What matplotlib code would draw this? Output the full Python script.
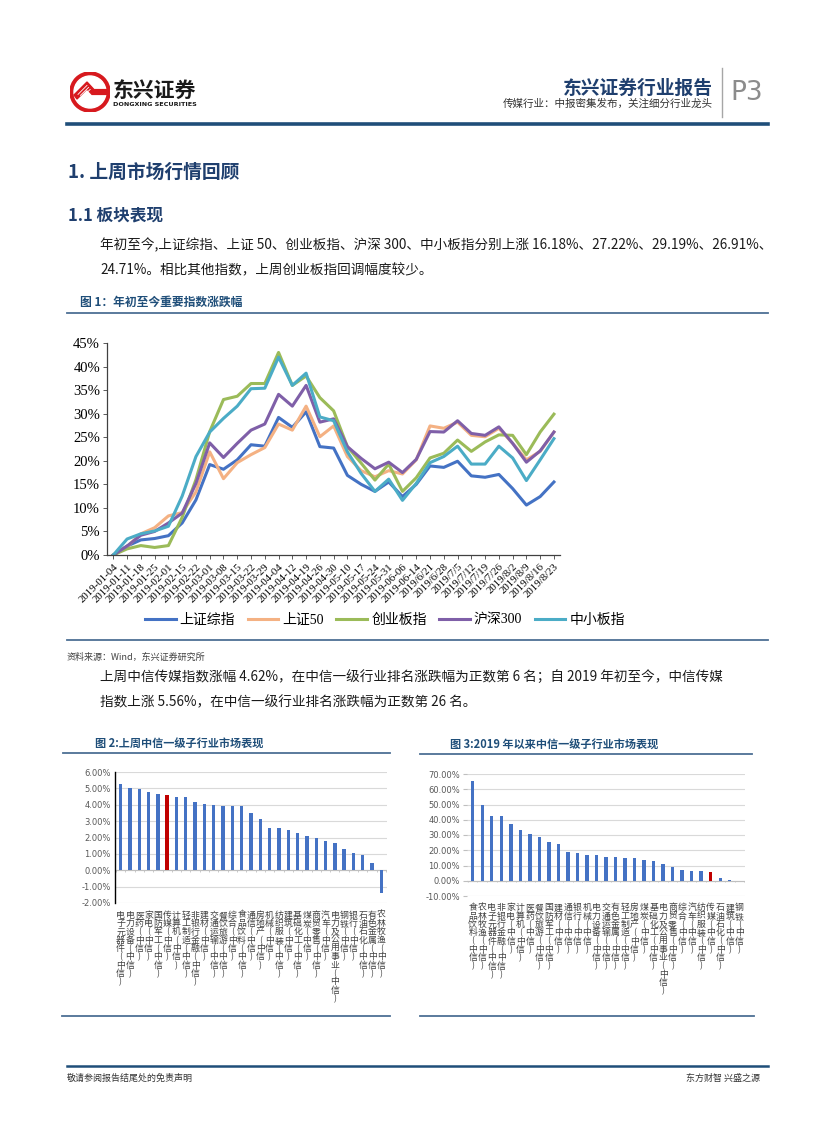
import matplotlib
matplotlib.use("Agg")
import matplotlib.pyplot as plt
import numpy as np
from matplotlib.lines import Line2D
from matplotlib.patches import Circle, Polygon
import matplotlib.transforms as mtransforms

plt.rcParams['font.family'] = ['Noto Sans CJK SC', 'DejaVu Sans']

# ---------------- 数据 ----------------
dates = ['2019-01-04', '2019-01-11', '2019-01-18', '2019-01-25', '2019-02-01', '2019-02-15',
         '2019-02-22', '2019-03-01', '2019-03-08', '2019-03-15', '2019-03-22', '2019-03-29',
         '2019-04-04', '2019-04-12', '2019-04-19', '2019-04-26', '2019-04-30', '2019-05-10',
         '2019-05-17', '2019-05-24', '2019-05-31', '2019-06-06', '2019-06-14', '2019/6/21',
         '2019/6/28', '2019/7/5', '2019/7/12', '2019/7/19', '2019/7/26', '2019/8/2',
         '2019/8/9', '2019/8/16', '2019/8/23']

szzz = [0, 1.9, 3.2, 3.5, 4.1, 6.8, 11.7, 19.2, 18.2, 20.2, 23.4, 23.1, 29.2, 27.1, 30.4, 23.0,
        22.7, 16.9, 15.0, 13.5, 15.5, 12.4, 15.0, 18.9, 18.6, 19.9, 16.8, 16.5, 17.1, 14.1,
        10.6, 12.4, 15.5]
sz50 = [0, 1.8, 4.5, 5.8, 8.3, 9.0, 13.4, 21.9, 16.2, 19.6, 21.3, 22.8, 27.8, 26.5, 31.6, 25.1,
        27.4, 20.9, 17.9, 16.6, 17.9, 17.2, 20.2, 27.4, 26.9, 28.2, 25.4, 25.1, 26.9, 23.7,
        20.2, 22.0, 26.1]
cyb = [0, 1.3, 2.0, 1.6, 2.0, 8.0, 16.0, 26.2, 33.0, 33.7, 36.4, 36.4, 43.0, 36.0, 38.0, 33.4,
       30.6, 23.0, 19.5, 15.9, 19.3, 13.5, 16.4, 20.6, 21.6, 24.4, 22.0, 24.0, 25.5, 25.4,
       21.3, 26.1, 29.9]
hs300 = [0, 1.9, 4.2, 5.0, 6.8, 8.9, 15.2, 23.8, 20.7, 23.7, 26.5, 27.8, 34.1, 31.6, 36.0, 28.2,
         28.9, 23.0, 20.5, 18.3, 19.7, 17.5, 20.3, 26.2, 26.1, 28.5, 25.8, 25.4, 27.2, 23.7,
         19.7, 22.1, 26.1]
zxb = [0, 3.4, 4.5, 5.1, 6.1, 12.5, 20.9, 26.1, 29.0, 31.6, 35.3, 35.4, 42.0, 36.0, 38.6, 29.3,
       28.5, 21.9, 17.3, 13.5, 16.1, 11.6, 15.2, 19.6, 20.9, 23.1, 19.3, 19.3, 23.1, 20.6,
       15.8, 20.2, 24.7]

series_names = ['上证综指', '上证50', '创业板指', '沪深300', '中小板指']
series_colors = ['#4472C4', '#F4B183', '#9BBB59', '#7F5FA8', '#4BACC6']

ind_week = ['电子元器件(中信)', '电力设备(中信)', '医药(中信)', '家电(中信)', '国防军工(中信)',
            '传媒(中信)', '计算机(中信)', '轻工制造(中信)', '非银行金融(中信)', '建材(中信)',
            '交通运输(中信)', '餐饮旅游(中信)', '综合(中信)', '食品饮料(中信)', '通信(中信)',
            '房地产(中信)', '机械(中信)', '纺织服装(中信)', '建筑(中信)', '基础化工(中信)',
            '煤炭(中信)', '商贸零售(中信)', '汽车(中信)', '电力及公用事业(中信)', '钢铁(中信)',
            '银行(中信)', '石油石化(中信)', '有色金属(中信)', '农林牧渔(中信)']
chg_week = [5.24, 5.03, 4.99, 4.80, 4.63, 4.62, 4.50, 4.50, 4.19, 4.07, 4.00, 3.94, 3.94, 3.94,
            3.51, 3.14, 2.59, 2.59, 2.46, 2.28, 2.09, 1.99, 1.79, 1.66, 1.29, 1.05, 0.92, 0.43,
            -1.40]

ind_ytd = ['食品饮料(中信)', '农林牧渔(中信)', '电子元器件(中信)', '非银行金融(中信)', '家电(中信)',
           '计算机(中信)', '医药(中信)', '餐饮旅游(中信)', '国防军工(中信)', '建材(中信)',
           '通信(中信)', '银行(中信)', '机械(中信)', '电力设备(中信)', '交通运输(中信)',
           '有色金属(中信)', '轻工制造(中信)', '房地产(中信)', '煤炭(中信)', '基础化工(中信)',
           '电力及公用事业(中信)', '商贸零售(中信)', '综合(中信)', '汽车(中信)', '纺织服装(中信)',
           '传媒(中信)', '石油石化(中信)', '建筑(中信)', '钢铁(中信)']
chg_ytd = [65.6, 49.9, 42.7, 42.7, 37.4, 33.5, 30.8, 28.9, 25.6, 24.3, 19.0, 18.4, 17.1, 17.1,
           15.8, 15.8, 15.1, 15.1, 13.8, 13.1, 11.2, 9.2, 7.2, 6.6, 6.6, 5.56, 2.0, 0.3, -0.2]

# ---------------- 页面 ----------------
W, H = 827, 1122
fig = plt.figure(figsize=(W / 100, H / 100), dpi=100)
fig.patch.set_facecolor('white')


def fx(x):
    return x / W


def fy(y):
    return 1 - y / H


def txt(x, y, s, **kw):
    fig.text(fx(x), fy(y), s, **kw)


def hline(x0, x1, y, **kw):
    fig.add_artist(Line2D([fx(x0), fx(x1)], [fy(y), fy(y)], transform=fig.transFigure, **kw))


def add_ax(left, top, right, bottom):
    return fig.add_axes([fx(left), fy(bottom), (right - left) / W, (bottom - top) / H])


navy = '#1F3F6E'
blue_line = '#4D6F94'

# 标志
lax = add_ax(70, 72, 110, 112)
lax.set_xlim(-1, 1)
lax.set_ylim(-1, 1)
lax.axis('off')
lax.add_patch(Circle((0, 0), 1, color='#D7191E'))
lax.add_patch(Circle((0, 0), 0.8, color='white'))
lax.add_patch(Polygon([(-0.8, -0.15), (-0.15, 0.5), (0.2, 0.12), (0.85, 0.12), (0.85, -0.12),
                       (0.1, -0.12), (-0.15, 0.15), (-0.65, -0.35)], color='#D7191E'))
for k in range(3):
    lax.plot([-0.6 + k * 0.12, -0.15 + k * 0.08], [-0.12 - k * 0.05, 0.33 - k * 0.1],
             color='white', lw=0.6)
txt(113, 90, '东兴证券', fontsize=15, fontweight='bold', va='center', color='#1a1a1a')
txt(113, 104, 'DONGXING SECURITIES', fontsize=4.6, fontweight='bold', va='center',
    family='DejaVu Sans', color='#1a1a1a')

txt(713, 88, '东兴证券行业报告', fontsize=13.5, fontweight='bold', ha='right', va='center', color=navy)
txt(713, 104, '传媒行业：中报密集发布，关注细分行业龙头', fontsize=7.6, ha='right', va='center', color='#333333')
fig.add_artist(Line2D([fx(722), fx(722)], [fy(68), fy(117)], transform=fig.transFigure,
                      color='#A6A6A6', lw=1))
txt(730, 93, 'P3', fontsize=19, ha='left', va='center', color='#8C8C8C', family='DejaVu Sans')
hline(67, 768, 124, color='#1F4E79', lw=2.6)

body = 9.8
txt(68, 172, '1. 上周市场行情回顾', fontsize=13.5, fontweight='bold', va='center', color=navy)
txt(68, 215, '1.1 板块表现', fontsize=12, fontweight='bold', va='center', color=navy)
txt(100, 245, '年初至今,上证综指、上证 50、创业板指、沪深 300、中小板指分别上涨 16.18%、27.22%、29.19%、26.91%、',
    fontsize=body, va='center', color='#1a1a1a')
txt(100, 270, '24.71%。相比其他指数，上周创业板指回调幅度较少。', fontsize=body, va='center', color='#1a1a1a')

txt(80, 302, '图 1：年初至今重要指数涨跌幅', fontsize=8.5, fontweight='bold', va='center', color='#1F4E79')
hline(67, 768, 313, color=blue_line, lw=1.3)

# ---------------- 图1 折线 ----------------
ax = add_ax(107, 343, 560, 555)
x = np.arange(len(dates))
for vals, name, c in zip([szzz, sz50, cyb, hs300, zxb], series_names, series_colors):
    ax.plot(x, vals, color=c, lw=2.2, label=name, solid_joinstyle='round')
ax.set_ylim(0, 45)
ax.set_xlim(-0.46, len(dates) - 1 + 0.44)
ax.set_yticks(np.arange(0, 46, 5))
ax.set_yticklabels(['%d%%' % v for v in range(0, 46, 5)], family='Liberation Serif', fontsize=10.5)
ax.set_xticks(x)
ax.set_xticklabels(dates, rotation=45, ha='right', rotation_mode='anchor',
                   family='Liberation Serif', fontsize=7.8)
ax.tick_params(axis='x', length=3, width=0.6, colors='#404040', pad=2)
ax.tick_params(axis='y', length=3, width=0.6, colors='#404040', pad=2)
for lab in ax.get_xticklabels() + ax.get_yticklabels():
    lab.set_color('black')
for s in ['top', 'right']:
    ax.spines[s].set_visible(False)
for s in ['left', 'bottom']:
    ax.spines[s].set_color('#404040')
    ax.spines[s].set_linewidth(0.9)
ax.legend(loc='center', bbox_to_anchor=(fx(385), fy(620)), bbox_transform=fig.transFigure,
          ncol=5, frameon=False, handlelength=2.2, columnspacing=0.9, handletextpad=0.3,
          prop={'family': ['Liberation Serif', 'Noto Sans CJK SC'], 'size': 10})

hline(67, 768, 640, color=blue_line, lw=1.3)
txt(67, 657, '资料来源：Wind，东兴证券研究所', fontsize=6.5, style='italic', va='center', color='#404040')
txt(100, 677, '上周中信传媒指数涨幅 4.62%，在中信一级行业排名涨跌幅为正数第 6 名；自 2019 年初至今，中信传媒',
    fontsize=body, va='center', color='#1a1a1a')
txt(100, 702, '指数上涨 5.56%，在中信一级行业排名涨跌幅为正数第 26 名。', fontsize=body, va='center', color='#1a1a1a')

txt(95, 744, '图 2:上周中信一级子行业市场表现', fontsize=8, fontweight='bold', va='center', color='#1F4E79')
hline(63, 390, 753, color=blue_line, lw=1.3)
txt(450, 745, '图 3:2019 年以来中信一级子行业市场表现', fontsize=8, fontweight='bold', va='center', color='#1F4E79')
hline(420, 752, 754, color=blue_line, lw=1.3)


# ---------------- 柱状图 ----------------
def bar_panel(axb, names, vals, ylo, yhi, step, left_spine):
    n = len(names)
    xs = np.arange(n)
    cols = ['#C00000' if nm == '传媒(中信)' else '#4472C4' for nm in names]
    axb.bar(xs, vals, width=0.36, color=cols, zorder=3)
    axb.set_xlim(-0.6, n - 0.4)
    axb.set_ylim(ylo, yhi)
    ticks = np.arange(ylo, yhi + step / 2, step)
    axb.set_yticks(ticks)
    axb.set_yticklabels(['%.2f%%' % t for t in ticks], fontsize=6, family='DejaVu Sans', color='#595959')
    axb.grid(axis='y', color='#D9D9D9', lw=0.8, zorder=0)
    axb.axhline(0, color='#BFBFBF', lw=0.8, zorder=2)
    axb.vlines(np.arange(n + 1) - 0.5, -(yhi - ylo) * 0.012, 0, color='#BFBFBF', lw=0.6, zorder=2)
    axb.set_xticks([])
    for s in ['top', 'right', 'bottom']:
        axb.spines[s].set_visible(False)
    if left_spine:
        axb.spines['left'].set_color('black')
        axb.spines['left'].set_linewidth(1)
        axb.tick_params(axis='y', length=0, pad=3)
    else:
        axb.spines['left'].set_visible(False)
        axb.tick_params(axis='y', length=3, color='#BFBFBF', pad=2)
    trans = mtransforms.blended_transform_factory(axb.transData, axb.transAxes)
    for i, nm in enumerate(names):
        axb.text(i, -0.06, '\n'.join(nm), transform=trans, ha='center', va='top',
                 fontsize=6.4, linespacing=0.9, color='#404040')


ax2 = add_ax(115, 772, 387, 903)
bar_panel(ax2, ind_week, chg_week, -2, 6, 1, True)
ax3 = add_ax(467, 774, 745, 896)
bar_panel(ax3, ind_ytd, chg_ytd, -10, 70, 10, False)

hline(62, 390, 1016, color=blue_line, lw=1.3)
hline(420, 754, 1016, color=blue_line, lw=1.3)

hline(67, 768, 1066, color='#1F4E79', lw=1.8)
txt(67, 1078, '敬请参阅报告结尾处的免责声明', fontsize=6.5, va='center', color='#333333')
txt(760, 1078, '东方财智 兴盛之源', fontsize=6.5, va='center', ha='right', color='#333333')

fig.savefig('out.png', dpi=100)
